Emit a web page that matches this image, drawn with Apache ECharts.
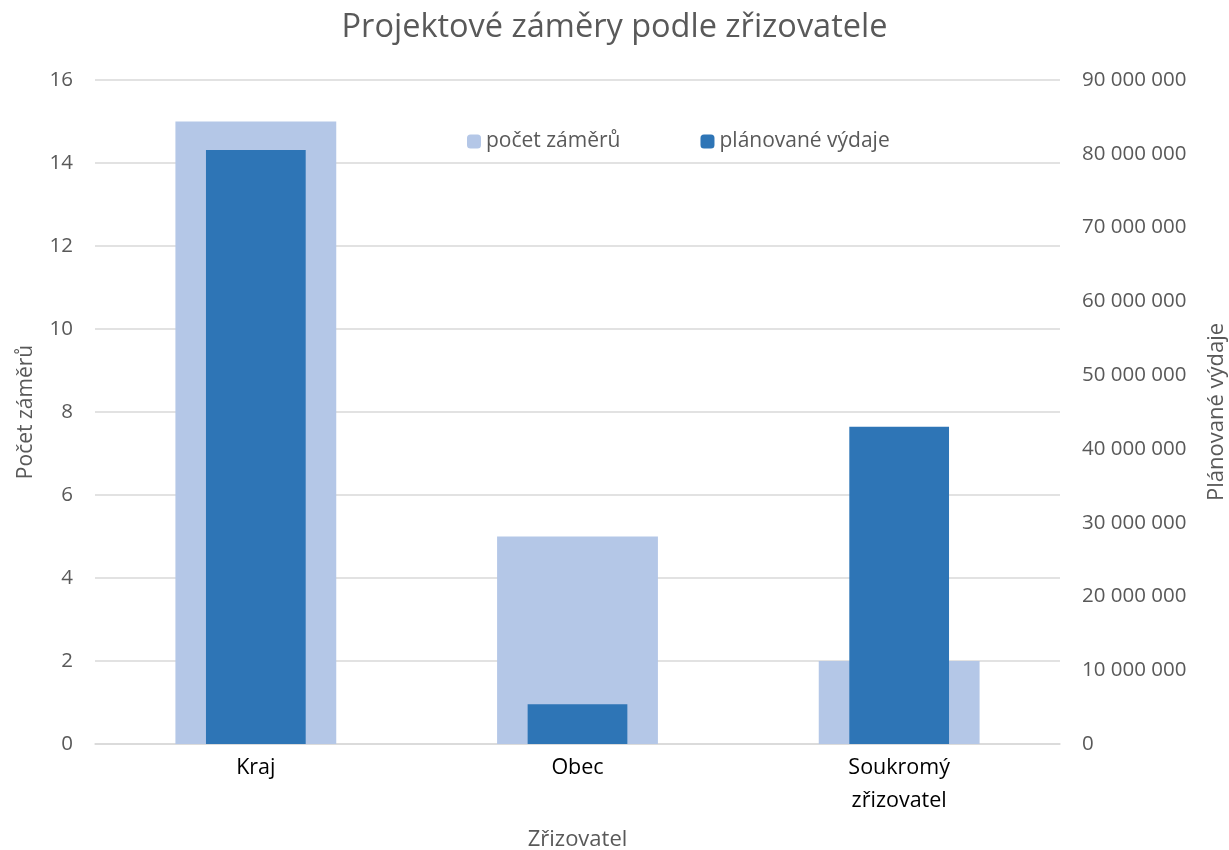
<!DOCTYPE html>
<html>
<head>
<meta charset="utf-8">
<script src="https://cdn.jsdelivr.net/npm/echarts@6/dist/echarts.min.js"></script>
<style>
  html, body { margin: 0; padding: 0; background: #fff; }
  #main { width: 1229px; height: 850px; }
</style>
</head>
<body>
<div id="main"></div>
<script>
// data
const categories = ['Kraj', 'Obec', 'Soukromý\nzřizovatel'];
const pocetZameru = [15, 5, 2];
const planovaneVydaje = [80500000, 5400000, 43000000];

const grey = '#595959';
const font = '"Open Sans", "Noto Sans", sans-serif';

function spaced(v) {
  return String(v).replace(/\B(?=(\d{3})+(?!\d))/g, ' ');
}

const chart = echarts.init(document.getElementById('main'));
chart.setOption({
  animation: false,
  textStyle: { fontFamily: font },
  title: {
    text: 'Projektové záměry podle zřizovatele',
    left: 'center',
    top: 6,
    textStyle: { color: grey, fontSize: 32.5, fontWeight: 'normal', fontFamily: font }
  },
  legend: {
    left: 462,
    top: 126,
    itemWidth: 14,
    itemHeight: 14,
    itemGap: 80,
    textStyle: { color: grey, fontSize: 21 },
    data: ['počet záměrů', 'plánované výdaje']
  },
  grid: { left: 95, right: 169, top: 80, bottom: 106, containLabel: false, outerBoundsMode: 'none' },
  xAxis: [
    {
      type: 'category',
      data: categories,
      name: 'Zřizovatel',
      nameLocation: 'middle',
      nameGap: 85,
      nameTextStyle: { color: grey, fontSize: 22 },
      axisLine: { lineStyle: { color: '#d9d9d9', width: 1.5 } },
      axisTick: { show: false },
      axisLabel: { color: '#000', fontSize: 21.5, lineHeight: 33, margin: 7, verticalAlign: 'top' }
    },
    {
      type: 'category',
      data: categories,
      show: false
    }
  ],
  yAxis: [
    {
      type: 'value',
      min: 0, max: 16, interval: 2,
      name: 'Počet záměrů',
      nameLocation: 'middle',
      nameGap: 58,
      nameTextStyle: { color: grey, fontSize: 21 },
      axisLine: { show: false },
      axisTick: { show: false },
      axisLabel: { color: grey, fontSize: 20.5, margin: 22 },
      splitLine: { lineStyle: { color: '#d9d9d9', width: 1.5 } }
    },
    {
      type: 'value',
      min: 0, max: 90000000, interval: 10000000,
      name: 'Plánované výdaje',
      nameLocation: 'middle',
      nameGap: 146,
      nameRotate: 90,
      nameTextStyle: { color: grey, fontSize: 22 },
      axisLine: { show: false },
      axisTick: { show: false },
      splitLine: { show: false },
      axisLabel: { color: grey, fontSize: 20.5, margin: 22, formatter: spaced }
    }
  ],
  series: [
    {
      name: 'počet záměrů',
      type: 'bar',
      xAxisIndex: 0,
      yAxisIndex: 0,
      barWidth: '50%',
      itemStyle: { color: '#b4c7e7' },
      data: pocetZameru
    },
    {
      name: 'plánované výdaje',
      type: 'bar',
      xAxisIndex: 1,
      yAxisIndex: 1,
      barWidth: '31%',
      itemStyle: { color: '#2e75b6' },
      data: planovaneVydaje
    }
  ]
});
</script>
</body>
</html>
